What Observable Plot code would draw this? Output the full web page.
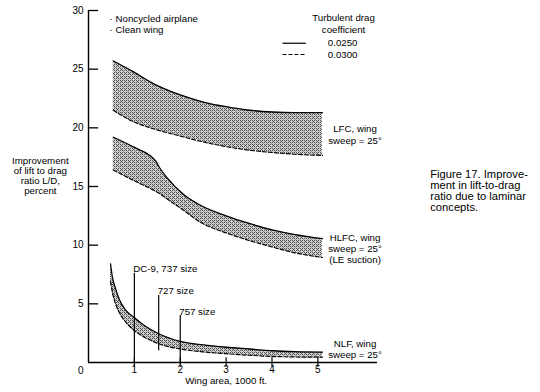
<!DOCTYPE html>
<html>
<head>
<meta charset="utf-8">
<script src="https://cdn.jsdelivr.net/npm/d3@7"></script>
<script src="https://cdn.jsdelivr.net/npm/@observablehq/plot@0.6"></script>
<style>
  html, body { margin: 0; padding: 0; background: #fff; }
  svg { display: block; }
</style>
</head>
<body>
<div id="chart"></div>
<script>
// Wing area (1000 ft.) and L/D improvement (percent) — upper edge: Cd 0.0250 (solid), lower edge: Cd 0.0300 (dashed)
const lfcX     = [0.54, 0.99, 1.35, 2.0, 2.5, 3.0, 3.5, 4.0, 4.5, 5.1];
const lfcUpper = [25.7, 24.75, 23.9, 22.8, 22.2, 21.8, 21.5, 21.35, 21.3, 21.3];
const lfcLower = [21.5, 20.5, 20.0, 19.3, 18.8, 18.4, 18.1, 17.9, 17.75, 17.65];

const hlfcX     = [0.54, 0.99, 1.46, 1.55, 1.71, 2.08, 2.44, 3.0, 3.5, 4.0, 4.5, 5.1];
const hlfcUpper = [19.2, 18.35, 17.2, 16.6, 15.75, 14.3, 13.4, 12.5, 11.85, 11.3, 10.9, 10.55];
const hlfcLower = [16.4, 15.5, 14.6, 14.4, 13.95, 12.95, 11.95, 11.05, 10.4, 9.85, 9.35, 8.95];

const nlfX     = [0.48, 0.52, 0.59, 0.68, 0.8, 0.99, 1.2, 1.53, 2.0, 2.5, 3.0, 3.5, 4.0, 4.5, 5.1];
const nlfUpper = [8.4, 7.3, 6.3, 5.3, 4.5, 3.85, 3.2, 2.45, 1.8, 1.5, 1.3, 1.15, 1.0, 0.92, 0.88];
const nlfLower = [6.9, 6.0, 5.0, 4.2, 3.5, 2.75, 2.2, 1.6, 1.15, 0.9, 0.75, 0.62, 0.52, 0.47, 0.45];

const aircraftNames = ["DC-9, 737 size", "727 size", "757 size"];
const aircraftArea  = [1.0, 1.53, 2.0];
const aircraftTop   = [7.6, 5.7, 4.0];
const aircraftBot   = [0, 1.0, 0];
const aircraftLabY  = [8.0, 6.14, 4.29];

const xTicks = [1, 2, 3, 4, 5];
const yTicks = [5, 10, 15, 20, 25, 30];

const toRows = (xs, up, lo) => xs.map((x, i) => ({x, upper: up[i], lower: lo[i]}));
const bands = [toRows(lfcX, lfcUpper, lfcLower), toRows(hlfcX, hlfcUpper, hlfcLower), toRows(nlfX, nlfUpper, nlfLower)];
const aircraft = aircraftNames.map((name, i) => ({name, area: aircraftArea[i], top: aircraftTop[i], bot: aircraftBot[i], ly: aircraftLabY[i]}));

const font = "'Liberation Sans', Arial, sans-serif";
const fs = 9.7;

const bandMarks = bands.flatMap(b => [
  Plot.areaY(b, {x: "x", y1: "lower", y2: "upper", fill: "url(#hatch)", curve: "monotone-x"}),
  Plot.line(b, {x: "x", y: "upper", stroke: "#000", strokeWidth: 1.3, curve: "monotone-x"}),
  Plot.line(b, {x: "x", y: "lower", stroke: "#000", strokeWidth: 1.2, strokeDasharray: "4,2", curve: "monotone-x"})
]);

const chart = Plot.plot({
  width: 540,
  height: 392,
  marginLeft: 88,
  marginRight: 163,
  marginTop: 10,
  marginBottom: 30,
  style: {fontFamily: font, fontSize: fs + "px", color: "#000", background: "#fff", overflow: "visible"},
  x: {domain: [0, 6.3]},
  y: {domain: [0, 30]},
  marks: [
    ...bandMarks,
    // axes lines
    Plot.ruleY([0], {x1: 0, x2: 6.3, stroke: "#000", strokeWidth: 1.4}),
    Plot.ruleX([0], {y1: 0, y2: 30, stroke: "#000", strokeWidth: 1.4}),
    Plot.ruleY(yTicks, {x1: 0, x2: 0.22, stroke: "#000", strokeWidth: 1.3}),
    Plot.ruleX(xTicks, {y1: -0.4, y2: 0.4, stroke: "#000", strokeWidth: 1.2}),
    Plot.axisY(yTicks, {tickSize: 0, tickPadding: 5, label: null, fontSize: 10}),
    Plot.axisX(xTicks, {tickSize: 0, tickPadding: 3, label: null, fontSize: 10}),
    Plot.text(["0"], {x: 0, y: 0, text: d => d, dx: -5, dy: 8, textAnchor: "end", fontSize: 10}),
    Plot.text(["Wing area, 1000 ft."], {x: 3.0, y: 0, dy: 18, text: d => d, fontSize: fs}),
    Plot.text(["Improvement\nof lift to drag\nratio L/D,\npercent"], {x: -1.05, y: 15.9, text: d => d, lineHeight: 1.05, fontSize: fs}),
    // aircraft reference lines
    Plot.ruleX(aircraft, {x: "area", y1: "bot", y2: "top", stroke: "#000", strokeWidth: 1.2}),
    Plot.text(aircraft, {x: "area", y: "ly", text: "name", textAnchor: "start", dx: -1, fontSize: fs}),
    // band labels
    Plot.text(["LFC, wing\nsweep = 25°"], {x: 5.81, y: 19.49, text: d => d, lineHeight: 1.22, fontSize: fs}),
    Plot.text(["HLFC, wing\nsweep = 25°\n(LE suction)"], {x: 5.81, y: 9.74, text: d => d, lineHeight: 1.15, fontSize: fs}),
    Plot.text(["NLF, wing\nsweep = 25°"], {x: 5.81, y: 1.12, text: d => d, lineHeight: 1.15, fontSize: fs}),
    // top-left notes
    Plot.text(["· Noncycled airplane", "· Clean wing"], {x: 0.46, y: [29.29, 28.35], text: d => d, textAnchor: "start", fontSize: fs}),
    // drag coefficient legend
    Plot.text(["Turbulent drag\ncoefficient"], {x: 5.56, y: 28.89, text: d => d, lineHeight: 1.25, fontSize: fs}),
    Plot.ruleY([27.21], {x1: 4.24, x2: 4.75, stroke: "#000", strokeWidth: 1.2}),
    Plot.ruleY([26.25], {x1: 4.24, x2: 4.75, stroke: "#000", strokeWidth: 1.2, strokeDasharray: "4,2"}),
    Plot.text(["0.0250", "0.0300"], {x: 5.54, y: [27.21, 26.25], text: d => d, fontSize: fs}),
    // figure caption
    Plot.text(["Figure 17. Improve-\nment in lift-to-drag\nratio due to laminar\nconcepts."], {x: 7.45, y: 14.6, text: d => d, textAnchor: "start", lineHeight: 0.98, fontSize: 11.2})
  ]
});

const ns = "http://www.w3.org/2000/svg";
const defs = document.createElementNS(ns, "defs");
defs.innerHTML = `<pattern id="hatch" width="4" height="4" patternUnits="userSpaceOnUse">
  <rect width="4" height="4" fill="#cfcfcf"/>
  <rect x="0" y="0" width="1" height="1" fill="#505050"/>
  <rect x="2" y="0" width="1" height="1" fill="#505050"/>
  <rect x="1" y="1" width="1" height="1" fill="#505050"/>
  <rect x="0" y="2" width="1" height="1" fill="#505050"/>
  <rect x="2" y="2" width="1" height="1" fill="#505050"/>
  <rect x="3" y="3" width="1" height="1" fill="#8a8a8a"/>
</pattern>`;
chart.insertBefore(defs, chart.firstChild);
document.getElementById("chart").appendChild(chart);
</script>
</body>
</html>
